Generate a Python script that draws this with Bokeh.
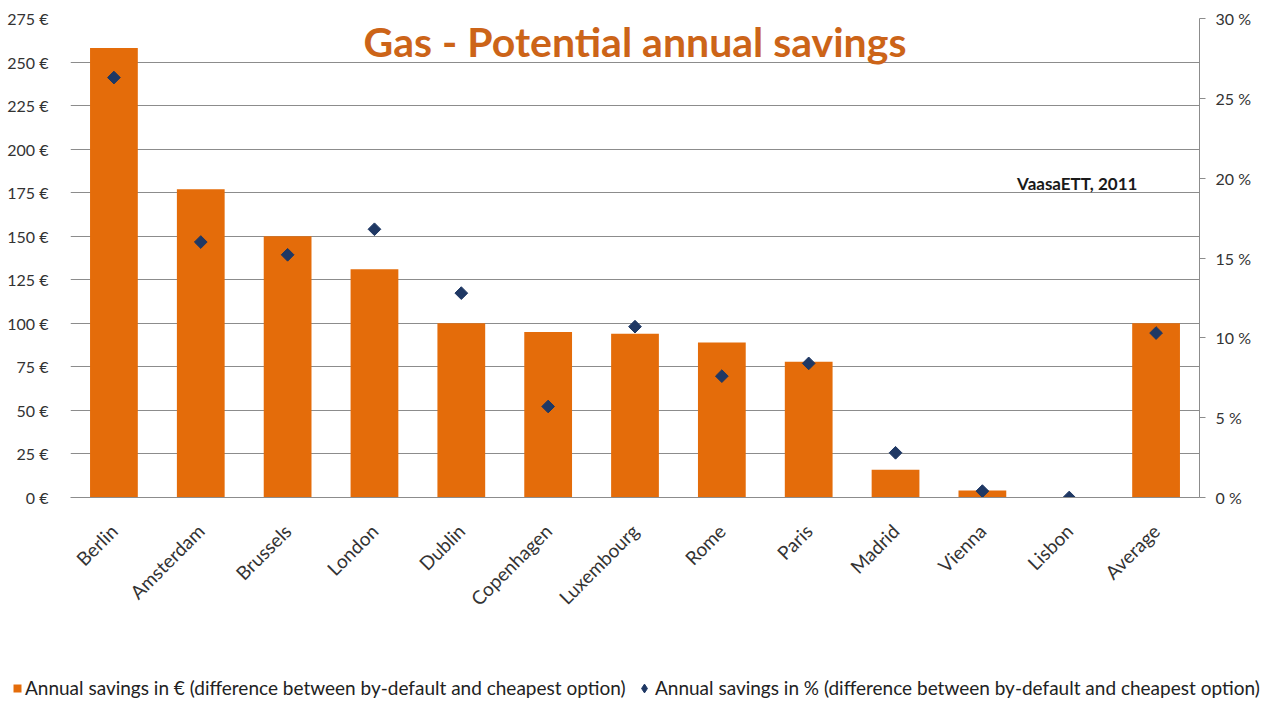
from math import pi
from bokeh.plotting import figure
from bokeh.layouts import column
from bokeh.models import (FactorRange, Range1d, LinearAxis, FixedTicker, PrintfTickFormatter,
                          Legend, LegendItem, Label, ColumnDataSource)
from bokeh.embed import file_html
from bokeh.resources import INLINE

cities = ["Berlin", "Amsterdam", "Brussels", "London", "Dublin", "Copenhagen", "Luxembourg",
          "Rome", "Paris", "Madrid", "Vienna", "Lisbon", "Average"]
savings_eur = [258, 177, 150, 131, 100, 95, 94, 89, 78, 16, 4, 0, 100]
savings_pct = [26.3, 16.0, 15.2, 16.8, 12.8, 5.7, 10.7, 7.6, 8.4, 2.8, 0.4, 0.0, 10.3]
eur_ticks = [0, 25, 50, 75, 100, 125, 150, 175, 200, 225, 250, 275]
pct_ticks = [0, 5, 10, 15, 20, 25, 30]
label_eur = "Annual savings in € (difference between by-default and cheapest option)"
label_pct = "Annual savings in % (difference between by-default and cheapest option)"

FONT = "Lato"
BAR = "#E46C0A"
DOT = "#1F3864"
src = ColumnDataSource(dict(city=cities, eur=savings_eur, pct=savings_pct))

p = figure(width=1274, height=660, x_range=FactorRange(*cities), y_range=Range1d(0, 275),
           output_backend="svg", toolbar_location=None,
           min_border_left=70, min_border_right=75, min_border_top=18, min_border_bottom=163)
p.frame_align = False
p.extra_y_ranges = {"pct": Range1d(0, 30)}
p.outline_line_color = None
p.xgrid.grid_line_color = None
p.ygrid.grid_line_color = "#8c8c8c"
p.ygrid.ticker = FixedTicker(ticks=eur_ticks)

p.vbar(x="city", top="eur", width=0.55, source=src, fill_color=BAR, line_color=None)
p.scatter(x="city", y="pct", source=src, y_range_name="pct", marker="square", angle=pi / 4,
          size=9, fill_color=DOT, line_color=DOT)

ya = p.yaxis[0]
ya.ticker = FixedTicker(ticks=eur_ticks)
ya.formatter = PrintfTickFormatter(format="%d €")
ya.axis_line_color = None
ya.major_tick_line_color = None
ya.minor_tick_line_color = None
ya.major_label_standoff = 16
ya.major_label_text_font = FONT
ya.major_label_text_font_size = "16px"
ya.major_label_text_color = "#333333"

ra = LinearAxis(y_range_name="pct", ticker=FixedTicker(ticks=pct_ticks),
                formatter=PrintfTickFormatter(format="%d %%"))
ra.axis_line_color = "#8c8c8c"
ra.major_tick_line_color = "#8c8c8c"
ra.major_tick_out = 6
ra.major_tick_in = 0
ra.minor_tick_line_color = None
ra.major_label_standoff = 10
ra.major_label_text_font = FONT
ra.major_label_text_font_size = "16px"
ra.major_label_text_color = "#333333"
p.add_layout(ra, "right")

xa = p.xaxis[0]
xa.axis_line_color = "#8c8c8c"
xa.major_tick_line_color = None
xa.minor_tick_line_color = None
xa.major_label_orientation = pi / 4
xa.major_label_standoff = 24
xa.major_label_text_font = FONT
xa.major_label_text_font_size = "19px"
xa.major_label_text_color = "#333333"

p.add_layout(Label(x=6.5, y=262, text="Gas - Potential annual savings", text_align="center",
                   text_baseline="middle", text_font=FONT, text_font_style="bold",
                   text_font_size="41px", text_color="#CC6418"))
p.add_layout(Label(x=10.9, y=180, text="VaasaETT, 2011", text_align="left",
                   text_baseline="middle", text_font=FONT, text_font_style="bold",
                   text_font_size="17px", text_color="#1a1a1a"))

# legend strip
lf = figure(width=1274, height=42, x_range=Range1d(0, 1), y_range=Range1d(0, 1),
            x_axis_type=None, y_axis_type=None, output_backend="svg", toolbar_location=None,
            min_border_left=0, min_border_right=0, min_border_top=0, min_border_bottom=0)
lf.frame_align = False
lf.outline_line_color = None
offscreen = ColumnDataSource(dict(l=[-5], r=[-4], b=[-5], t=[-4], x=[-5], y=[-5]))
r1 = lf.quad(left="l", right="r", bottom="b", top="t", source=offscreen,
             fill_color=BAR, line_color=None)
r2 = lf.scatter(x="x", y="y", source=offscreen, marker="diamond", size=7,
                fill_color=DOT, line_color=DOT)
common = dict(orientation="horizontal", margin=0, padding=0, border_line_color=None,
              background_fill_alpha=0, label_text_font=FONT, label_text_font_size="19px",
              label_text_color="#222222")
leg1 = Legend(items=[LegendItem(label=label_eur, renderers=[r1])], location=(12, 3),
              glyph_width=10, glyph_height=10, label_standoff=3, **common)
leg2 = Legend(items=[LegendItem(label=label_pct, renderers=[r2])], location=(633, 3),
              glyph_width=22, glyph_height=22, label_standoff=0, **common)
lf.add_layout(leg1, "center")
lf.add_layout(leg2, "center")

open("out.html", "w").write(file_html(column(p, lf, spacing=0), INLINE))
